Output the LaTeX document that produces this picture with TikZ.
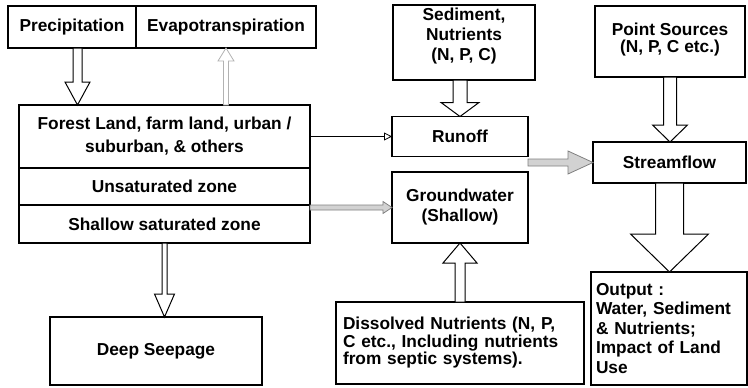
\documentclass[tikz,border=0pt]{standalone}
\usepackage{fontspec}
\setmainfont{Liberation Sans}
\usetikzlibrary{positioning,calc,arrows.meta}
\tikzset{
  mybox/.style={draw,line width=1.2pt,inner sep=2pt,outer sep=0pt,align=center,font=\bfseries\fontsize{17.3}{20}\selectfont},
  mytext/.style={inner sep=2pt,align=center,font=\bfseries\fontsize{17.3}{20}\selectfont},
  hollow/.style={draw,line width=1pt,fill=white},
  faint/.style={draw=gray!60,line width=.8pt,fill=white},
  shaded/.style={draw=gray,line width=.8pt,fill=gray!35}
}
% [style]{from}{to}{half shaft}{half head}{head length}
\newcommand{\blockarrow}[6][hollow]{%
  \coordinate (hb) at ($(#3)!#6!(#2)$);
  \draw[#1] ($(#2)!#4!90:(#3)$) -- ($(hb)!#4!90:(#3)$) -- ($(hb)!#5!90:(#3)$) -- (#3)
    -- ($(hb)!#5!-90:(#3)$) -- ($(hb)!#4!-90:(#3)$) -- ($(#2)!#4!-90:(#3)$) -- cycle;
}

\begin{document}
\begin{tikzpicture}[x=1pt,y=-1pt]
  \useasboundingbox (0,0) rectangle (748,388);
  \node[mybox,minimum width=128,minimum height=42] (prec) at (72,27) {Precipitation};
  \node[mybox,minimum width=180,minimum height=42] (evap) at (226,27) {Evapotranspiration};
  \node[mybox,minimum width=291,minimum height=63,font=\bfseries\fontsize{17.3}{23}\selectfont] (land) at (164.5,136.5) {Forest Land, farm land, urban /\\suburban, \& others};
  \node[mybox,minimum width=291,minimum height=37,below=0pt of land] (unsat) {Unsaturated zone};
  \node[mybox,minimum width=291,minimum height=38,below=0pt of unsat] (shallow) {Shallow saturated zone};
  \node[mybox,minimum width=212,minimum height=68] (deep) at (156,351) {Deep Seepage};

  \node[mybox,minimum width=142,minimum height=75] (sed) at (464,42.5) {};
  \node[mytext] (sedtext) at ([yshift=6pt]sed.center) {Sediment,\\Nutrients\\(N, P, C)};
  \node[mybox,minimum width=136,minimum height=40] (runoff) at (460,136.5) {Runoff};
  \node[mybox,minimum width=136,minimum height=71] (ground) at (460,207.5) {Groundwater\\(Shallow)};
  \node[mybox,minimum height=82,text width=234,inner xsep=7pt,align=left,font=\bfseries\fontsize{17.3}{17.5}\selectfont] (diss) at (460,343) {Dissolved Nutrients (N, P,\\C etc., Including nutrients\\from septic systems).};

  \node[mybox,minimum width=150,minimum height=71] (point) at (670,41.5) {};
  \node[mytext,font=\bfseries\fontsize{17.3}{17}\selectfont] (pointtext) at ([yshift=2pt]point.center) {Point Sources\\(N, P, C etc.)};
  \node[mybox,minimum width=153,minimum height=41] (stream) at (669.5,162.5) {Streamflow};
  \node[mybox,minimum height=113,text width=146,inner xsep=5pt,align=left,font=\bfseries\fontsize{17.3}{19.5}\selectfont] (output) at (669,328.5) {Output :\\Water, Sediment\\\& Nutrients;\\Impact of Land\\Use};

  \blockarrow{[xshift=5.5pt]prec.south}{[xshift=5.5pt]prec.south |- land.north}{4.5pt}{12.5pt}{23pt}
  \blockarrow[faint]{evap.south |- land.north}{evap.south}{2.5pt}{8pt}{13pt}
  \blockarrow{shallow.south}{shallow.south |- deep.north}{2.5pt}{10pt}{23pt}
  \blockarrow{runoff.north |- sed.south}{runoff.north}{7pt}{19pt}{14pt}
  \blockarrow{diss.north}{ground.south}{5pt}{17pt}{20pt}
  \blockarrow{point.south}{point.south |- stream.north}{6.5pt}{17.5pt}{17pt}
  \blockarrow{stream.south}{stream.south |- output.north}{14pt}{39pt}{38pt}
  \blockarrow[shaded]{stream.west -| runoff.east}{stream.west}{3.5pt}{11.5pt}{25pt}
  \blockarrow[shaded]{ground.west -| shallow.east}{ground.west}{2.5pt}{6pt}{9pt}
  \draw[line width=.8pt,-{Triangle[open,length=8pt,width=8pt]}] (land.east) -- (runoff.west);
\end{tikzpicture}
\end{document}
